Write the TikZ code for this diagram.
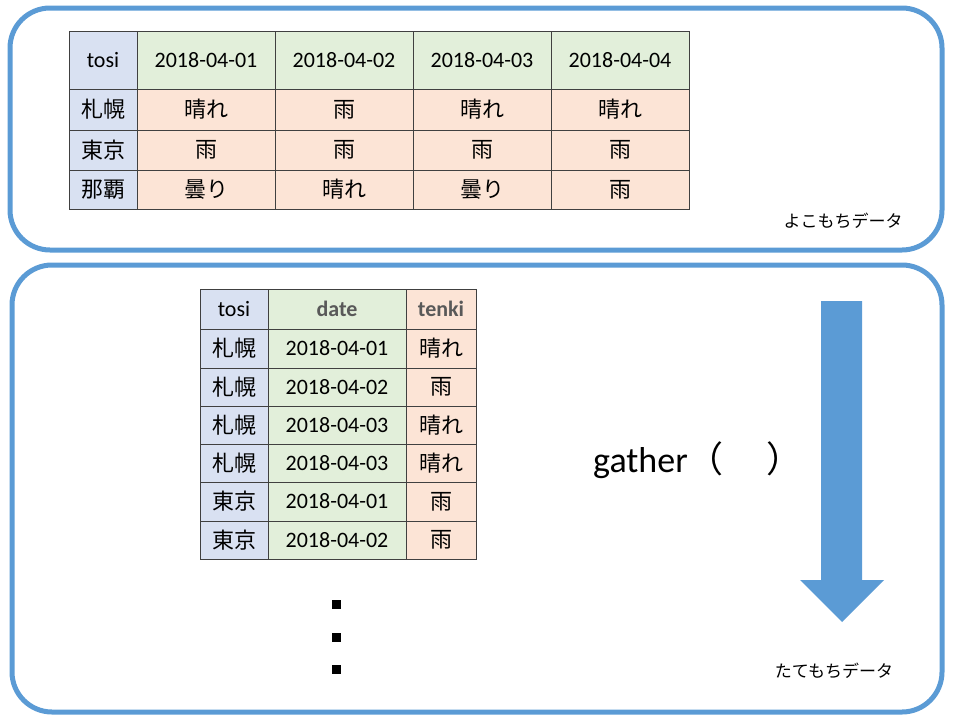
\documentclass[tikz,border=0pt]{standalone}
\usepackage{fontspec}
\setmainfont{Carlito}
\newfontfamily\cjk{Noto Sans CJK JP}
\definecolor{frame}{HTML}{5B9BD5}
\definecolor{cblue}{HTML}{D9E1F2}
\definecolor{cgreen}{HTML}{E2EFDA}
\definecolor{cpeach}{HTML}{FCE4D6}
\definecolor{hgray}{HTML}{595959}
\begin{document}
\begin{tikzpicture}[x=1pt,y=-1pt,
  box/.style={draw=frame,line width=5pt,rounded corners=40pt},
  cell/.style={draw=black!75,line width=0.8pt},
  lat/.style={font=\fontsize{22}{24}\selectfont},
  jp/.style={font=\cjk\fontsize{22}{24}\selectfont},
  hd/.style={font=\bfseries\fontsize{22}{24}\selectfont,text=hgray}]
\useasboundingbox (0,0) rectangle (960,720);
\draw[box] (10,8) rectangle (942,250);
\draw[box] (12,265) rectangle (942,712);
% top table
\foreach \xa/\xb/\t/\fc [count=\i] in {69/137/tosi/cblue,137/275/2018-04-01/cgreen,275/413/2018-04-02/cgreen,413/551/2018-04-03/cgreen,551/689/2018-04-04/cgreen}{
  \filldraw[cell,fill=\fc] (\xa,31) rectangle (\xb,89);
  \node[lat] (t0\i) at ({(\xa+\xb)/2},60) {\t};
}
\foreach \r/\ya/\yb/\c/\a/\b/\cc/\d in {1/89/130/札幌/晴れ/雨/晴れ/晴れ,2/130/170/東京/雨/雨/雨/雨,3/170/209/那覇/曇り/晴れ/曇り/雨}{
  \filldraw[cell,fill=cblue] (69,\ya) rectangle (137,\yb);
  \node[jp] (t\r0) at (103,{(\ya+\yb)/2}) {\c};
  \filldraw[cell,fill=cpeach] (137,\ya) rectangle (275,\yb);
  \node[jp] (t\r1) at (206,{(\ya+\yb)/2}) {\a};
  \filldraw[cell,fill=cpeach] (275,\ya) rectangle (413,\yb);
  \node[jp] (t\r2) at (344,{(\ya+\yb)/2}) {\b};
  \filldraw[cell,fill=cpeach] (413,\ya) rectangle (551,\yb);
  \node[jp] (t\r3) at (482,{(\ya+\yb)/2}) {\cc};
  \filldraw[cell,fill=cpeach] (551,\ya) rectangle (689,\yb);
  \node[jp] (t\r4) at (620,{(\ya+\yb)/2}) {\d};
}
\node[font=\cjk\fontsize{17}{20}\selectfont] (yoko) at (843,221) {よこもちデータ};
% bottom table
\filldraw[cell,fill=cblue] (200,289) rectangle (268,329);
\node[lat] (b00) at (234,309) {tosi};
\filldraw[cell,fill=cgreen] (268,289) rectangle (406,329);
\node[hd] (b01) at (337,309) {date};
\filldraw[cell,fill=cpeach] (406,289) rectangle (476,329);
\node[hd] (b02) at (441,309) {tenki};
\foreach \r/\ya/\yb/\c/\dd/\w in {1/329/368/札幌/2018-04-01/晴れ,2/368/406/札幌/2018-04-02/雨,3/406/444/札幌/2018-04-03/晴れ,4/444/482/札幌/2018-04-03/晴れ,5/482/521/東京/2018-04-01/雨,6/521/559/東京/2018-04-02/雨}{
  \filldraw[cell,fill=cblue] (200,\ya) rectangle (268,\yb);
  \node[jp] (b\r0) at (234,{(\ya+\yb)/2}) {\c};
  \filldraw[cell,fill=cgreen] (268,\ya) rectangle (406,\yb);
  \node[lat] (b\r1) at (337,{(\ya+\yb)/2}) {\dd};
  \filldraw[cell,fill=cpeach] (406,\ya) rectangle (476,\yb);
  \node[jp] (b\r2) at (441,{(\ya+\yb)/2}) {\w};
}
\foreach \y in {604,637,669} \fill (331.5,\y-4.5) rectangle (340.5,\y+4.5);
\node[font=\fontsize{36}{40}\selectfont,anchor=west,inner sep=0pt] (g) at (593,460) {gather{\cjk（\hspace{1.2em}）}};
\fill[frame] (821,301) -- (862,301) -- (862,580) -- (884,580) -- (842,622) -- (800,580) -- (821,580) -- cycle;
\node[font=\cjk\fontsize{17}{20}\selectfont] (tate) at (834,671) {たてもちデータ};
\end{tikzpicture}
\end{document}
